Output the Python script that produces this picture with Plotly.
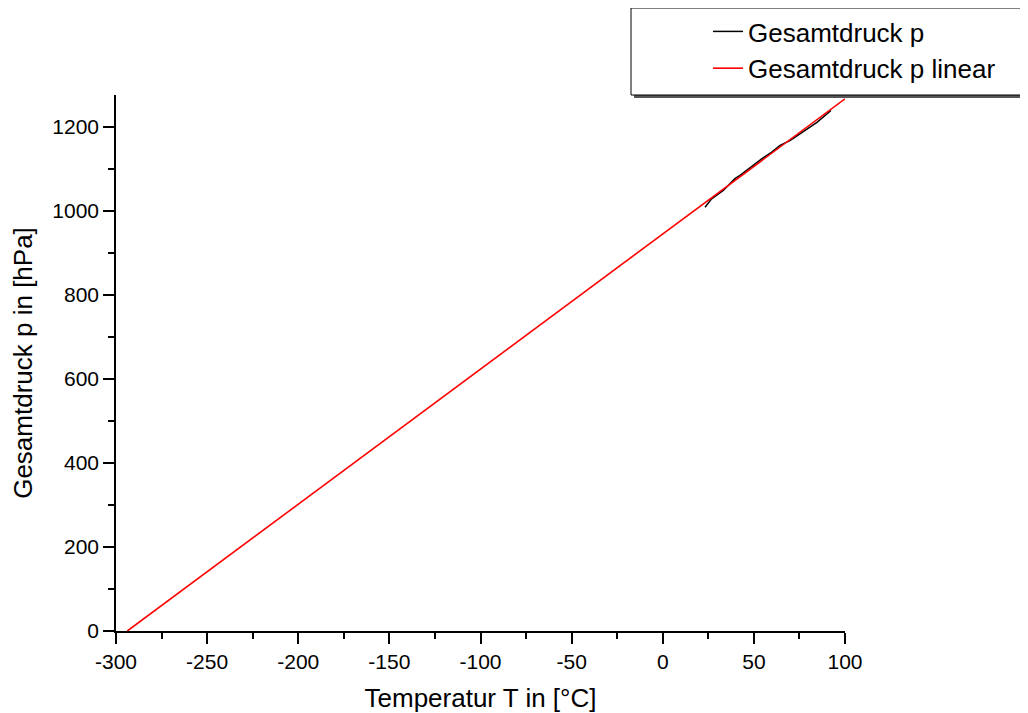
import plotly.graph_objects as go

# Measured data (Gesamtdruck p)
temp_meas = [23.2, 26.8, 33.2, 39.6, 42.4, 47.9, 54.3, 59.8, 64.4, 70.0, 78.2, 84.6, 92.3]
p_meas = [1008, 1028, 1048, 1076, 1084, 1103, 1123, 1139, 1155, 1167, 1191, 1210, 1238]

# Linear fit (Gesamtdruck p linear)
temp_fit = [-293.8, 100.0]
p_fit = [0.0, 1265.9]

x_ticks = [-300, -250, -200, -150, -100, -50, 0, 50, 100]
y_ticks = [0, 200, 400, 600, 800, 1000, 1200]

OFF = 8  # page body margin
W, H = 1028 - OFF, 713 - OFF
# target page positions: plot left 116, right 845, top 95, bottom 631
ml = 116 - OFF
mt = 95 - OFF
mr = W - (845 - OFF)
mb = H - (631 - OFF)
pw, ph = W - ml - mr, H - mt - mb

def px_x(px):
    return (px - OFF - ml) / pw

def px_y(py):
    return (H - mb - (py - OFF)) / ph

fig = go.Figure()
fig.add_trace(go.Scatter(x=temp_meas, y=p_meas, mode="lines", name="Gesamtdruck p",
                         line=dict(color="black", width=1.5)))
fig.add_trace(go.Scatter(x=temp_fit, y=p_fit, mode="lines", name="Gesamtdruck p linear",
                         line=dict(color="#ff0000", width=1.6)))

font_family = "Liberation Sans, Arial, sans-serif"

axis_common = dict(
    showgrid=False, zeroline=False, showline=True, linecolor="black", linewidth=1.5,
    ticks="outside", ticklen=11, tickwidth=1.5, tickcolor="black",
    tickfont=dict(family=font_family, size=21, color="black"),
)

fig.update_xaxes(
    range=[-300, 100], tickvals=x_ticks, ticktext=[str(v) for v in x_ticks],
    minor=dict(dtick=25, ticks="outside", ticklen=6, tickwidth=1.5, tickcolor="black"),
    title=dict(text="Temperatur T in [°C]", font=dict(family=font_family, size=26, color="black"),
               standoff=18),
    **axis_common,
)
fig.update_yaxes(
    range=[0, 1275], tickvals=y_ticks, ticktext=[str(v) for v in y_ticks],
    minor=dict(dtick=100, ticks="outside", ticklen=6, tickwidth=1.5, tickcolor="black"),
    title=dict(text="Gesamtdruck p in [hPa]", font=dict(family=font_family, size=26, color="black"),
               standoff=14),
    **axis_common,
)

# Legend frame with shadow
fig.add_shape(type="rect", xref="paper", yref="paper",
              x0=px_x(634), x1=px_x(1040), y0=px_y(98), y1=px_y(11),
              fillcolor="#555555", line=dict(width=0), layer="above")
fig.add_shape(type="rect", xref="paper", yref="paper",
              x0=px_x(631), x1=px_x(1040), y0=px_y(95), y1=px_y(8),
              fillcolor="white", line=dict(color="black", width=1), layer="above")

fig.update_layout(
    width=W, height=H,
    margin=dict(l=ml, r=mr, t=mt, b=mb, autoexpand=False),
    paper_bgcolor="white", plot_bgcolor="white",
    font=dict(family=font_family, color="black"),
    showlegend=True,
    legend=dict(
        xref="container", yref="container",
        x=700 / W, xanchor="left", y=1.0, yanchor="top",
        bgcolor="rgba(0,0,0,0)", borderwidth=0,
        font=dict(family=font_family, size=26, color="black"),
        tracegroupgap=0,
    ),
)

fig.write_html("out.html")
